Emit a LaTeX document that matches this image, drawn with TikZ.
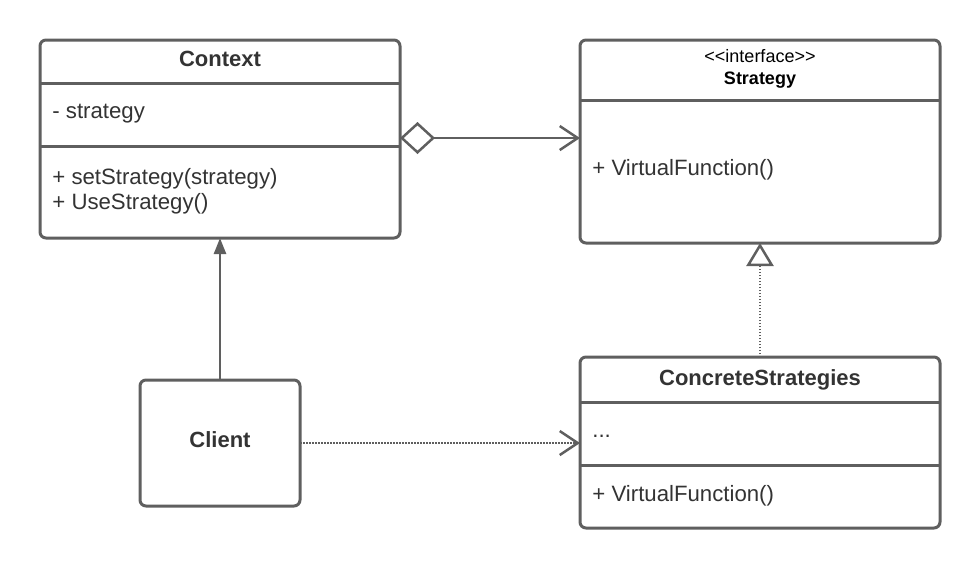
\documentclass[tikz,border=0pt]{standalone}
\usepackage{fontspec}
\setmainfont{Liberation Sans}
\usetikzlibrary{arrows.meta}
\usetikzlibrary{positioning}
\definecolor{umlline}{HTML}{5F5F5F}
\definecolor{umltext}{HTML}{333333}
\tikzset{
	classbox/.style={
		rectangle,
		rounded corners=3pt,
		draw=umlline, line width=1.5pt,
		fill=white,
		inner sep=0pt, outer sep=0pt,
		minimum width=180pt},
	compline/.style={draw=umlline, line width=1.5pt},
	classname/.style={
		anchor=base, inner sep=0pt,
		text=umltext,
		font=\bfseries\fontsize{11}{13}\selectfont},
	stereo/.style={
		anchor=base, inner sep=0pt,
		font=\fontsize{9}{11}\selectfont},
	member/.style={
		anchor=base west, inner sep=0pt,
		text=umltext,
		font=\fontsize{11.1}{13}\selectfont},
	link/.style={draw=umlline, line width=1.25pt},
	dotlink/.style={link, dash pattern=on 0.75pt off 0.75pt},
	openhead/.style={-{Straight Barb[length=9pt, width=12pt, line width=1.25pt]}},
}

\begin{document}
\begin{tikzpicture}[x=0.5pt, y=-0.5pt]
	\useasboundingbox (0,0) rectangle (980,569);

	% Context class
	\node[classbox, minimum height=99pt, anchor=north west] (context) at (40,40) {};
	\draw[compline] ([yshift=-21.5pt]context.north west) -- ([yshift=-21.5pt]context.north east);
	\draw[compline] ([yshift=-53.25pt]context.north west) -- ([yshift=-53.25pt]context.north east);
	\node[classname] (contextname) at (220,66.5) {Context};
	\node[member] (contextattr) at (52,118) {- strategy};
	\node[member] (contextset) at (52,184) {+ setStrategy(strategy)};
	\node[member] (contextuse) at (52,209) {+ UseStrategy()};

	% Strategy interface
	\node[classbox, minimum height=101.5pt, anchor=north west] (strategy) at (580,40) {};
	\draw[compline] ([yshift=-30pt]strategy.north west) -- ([yshift=-30pt]strategy.north east);
	\node[stereo] (strategystereo) at (760,62.7) {{<}{<}interface{>}{>}};
	\node[classname, text=black, font=\bfseries\fontsize{9}{11}\selectfont] (strategyname) at (760,84.3) {Strategy};
	\node[member] (strategyfunc) at (592,175) {+ VirtualFunction()};

	% concrete strategies
	\node[classbox, minimum height=85.5pt, anchor=north west] (concrete) at (580,357) {};
	\draw[compline] ([yshift=-22.5pt]concrete.north west) -- ([yshift=-22.5pt]concrete.north east);
	\draw[compline] ([yshift=-54pt]concrete.north west) -- ([yshift=-54pt]concrete.north east);
	\node[classname] (concretename) at (760,385) {ConcreteStrategies};
	\node[member] (concreteattr) at (592,437) {...};
	\node[member] (concretefunc) at (592,501) {+ VirtualFunction()};

	% client
	\node[classbox, minimum width=80pt, minimum height=63pt, anchor=north west] (client) at (140,380) {};
	\node[classname] (clientname) at (220,447) {Client};

	% connectors
	\coordinate (agglevel) at (0,138);
	\draw[link, {Diamond[open, length=17.5pt, width=16pt, line width=1.25pt]}-{Straight Barb[length=9pt, width=12pt, line width=1.25pt]}]
		(context.east |- agglevel) -- (strategy.west |- agglevel);
	\draw[link, -{Triangle[length=8pt, width=6pt]}] (client.north) -- (context.south -| client.north);
	\draw[dotlink, openhead] (client.east) -- (concrete.west |- client.east);
	\draw[dotlink, -{Triangle[open, length=11.5pt, width=13.5pt, line width=1.25pt]}] (concrete.north) -- (strategy.south);
\end{tikzpicture}
\end{document}
